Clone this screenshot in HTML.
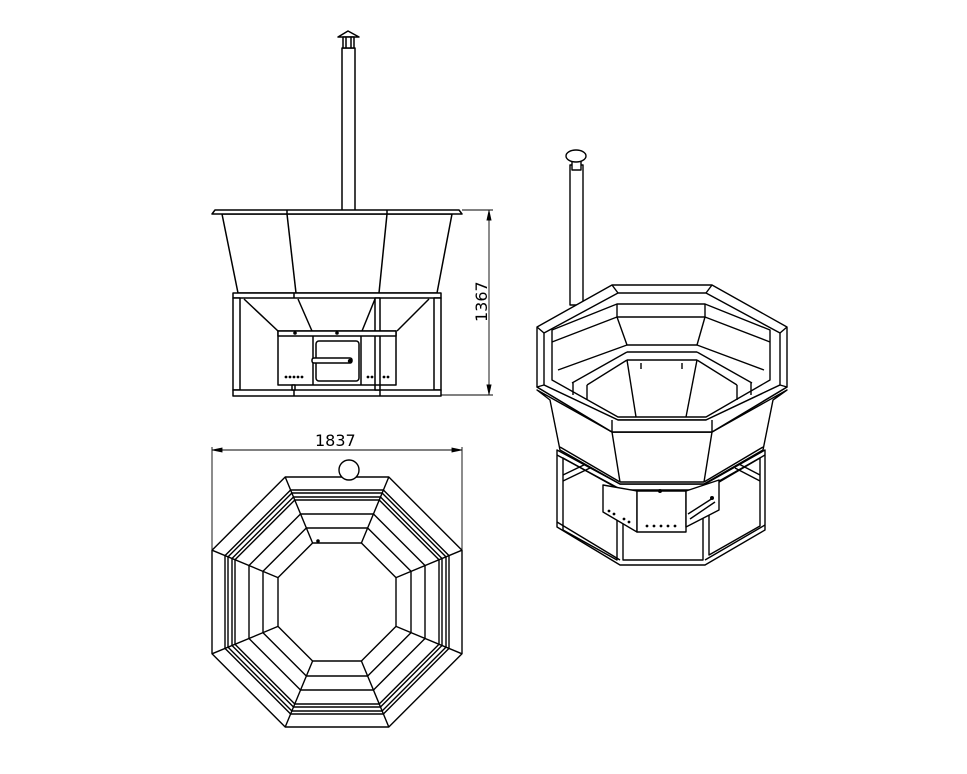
<!DOCTYPE html>
<html><head><meta charset="utf-8"><style>
html,body{margin:0;padding:0;background:#fff;}
svg{display:block;}
text{font-family:"DejaVu Sans","Liberation Sans",sans-serif;font-size:16px;fill:#000;}
</style></head><body>
<svg width="967" height="774" viewBox="0 0 967 774" xmlns="http://www.w3.org/2000/svg">
<g fill="#fff" stroke="#000" stroke-width="1.5" stroke-linejoin="round">
<rect x="342" y="48" width="13" height="163"/>
<polygon points="338,37 348,31 359,37"/>
<rect x="343" y="37" width="11" height="11"/>
<line x1="346" y1="37" x2="346" y2="48"/><line x1="351" y1="37" x2="351" y2="48"/>
<polygon points="222,214 452,214 437,293 238,293"/>
<line x1="287" y1="214" x2="296" y2="293"/>
<line x1="387" y1="214" x2="379" y2="293"/>
<polygon points="215,210 459,210 462,214 212,214"/>
<line x1="287" y1="210" x2="287" y2="214"/><line x1="387" y1="210" x2="387" y2="214"/>
<rect x="233" y="293" width="208" height="5"/>
<rect x="233" y="298" width="7" height="92"/>
<rect x="434" y="298" width="7" height="92"/>
<rect x="233" y="390" width="208" height="6"/>
<rect x="375" y="298" width="5" height="92"/>
<line x1="294" y1="293" x2="294" y2="298"/>
<line x1="294" y1="390" x2="294" y2="396"/>
<line x1="380" y1="390" x2="380" y2="396"/>
<line x1="244" y1="299" x2="278" y2="331"/>
<line x1="298" y1="299" x2="312" y2="331"/>
<line x1="375" y1="299" x2="362" y2="331"/>
<line x1="429" y1="299" x2="397" y2="331"/>
<rect x="278" y="331" width="118" height="54"/>
<rect x="278" y="331" width="118" height="5"/>
<line x1="313" y1="336" x2="313" y2="385"/><line x1="361" y1="336" x2="361" y2="385"/>
<rect x="316" y="341" width="43" height="40" rx="3"/>
<rect x="312" y="358" width="40" height="5" rx="2"/>
<rect x="292" y="385" width="3" height="5"/>
<line x1="375" y1="336" x2="375" y2="385"/><line x1="380" y1="336" x2="380" y2="385"/>
</g>
<g fill="#000">
<circle cx="295" cy="333" r="1.8"/><circle cx="337" cy="333" r="1.8"/><circle cx="350" cy="361" r="2.2"/>
<circle cx="286" cy="377" r="1.4"/><circle cx="290" cy="377" r="1.4"/><circle cx="294" cy="377" r="1.4"/><circle cx="298" cy="377" r="1.4"/><circle cx="302" cy="377" r="1.4"/>
<circle cx="368" cy="377" r="1.4"/><circle cx="372" cy="377" r="1.4"/><circle cx="384" cy="377" r="1.4"/><circle cx="388" cy="377" r="1.4"/>
</g>
<g stroke="#000" stroke-width="0.9" fill="#000">
<line x1="462" y1="210" x2="493" y2="210"/>
<line x1="441" y1="395" x2="493" y2="395"/>
<line x1="489" y1="210" x2="489" y2="395"/>
<polygon points="489,211 487,220 491,220"/>
<polygon points="489,394 487,385 491,385"/>
</g>
<text x="0" y="0" transform="translate(487,322) rotate(-90)">1367</text>

<g stroke="#000" stroke-width="0.9" fill="#000">
<line x1="212" y1="447" x2="212" y2="552"/>
<line x1="462" y1="447" x2="462" y2="552"/>
<line x1="212" y1="450" x2="462" y2="450"/>
<polygon points="213,450 222,448 222,452"/>
<polygon points="461,450 452,448 452,452"/>
</g>
<text x="315" y="446">1837</text>
<g fill="none" stroke="#000" stroke-width="1.4" stroke-linejoin="round">
<polygon fill="#fff" points="285.2,477 388.8,477 462,550.2 462,653.8 388.8,727 285.2,727 212,653.8 212,550.2"/>
<polygon points="290.6,490 383.4,490 449,555.6 449,648.4 383.4,714 290.6,714 225,648.4 225,555.6"/>
<polygon points="291.9,493 382.1,493 446,556.9 446,647.1 382.1,711 291.9,711 228,647.1 228,556.9"/>
<polygon points="293.5,497 380.5,497 442,558.5 442,645.5 380.5,707 293.5,707 232,645.5 232,558.5"/>
<polygon points="294.8,500 379.2,500 439,559.8 439,644.2 379.2,704 294.8,704 235,644.2 235,559.8"/>
<polygon points="300.5,514 373.5,514 425,565.5 425,638.5 373.5,690 300.5,690 249,638.5 249,565.5"/>
<polygon points="306.3,528 367.7,528 411,571.3 411,632.7 367.7,676 306.3,676 263,632.7 263,571.3"/>
<polygon points="312.6,543 361.4,543 396,577.6 396,626.4 361.4,661 312.6,661 278,626.4 278,577.6"/>
<line x1="285.2" y1="477" x2="312.6" y2="543"/>
<line x1="388.8" y1="477" x2="361.4" y2="543"/>
<line x1="462" y1="550.2" x2="396" y2="577.6"/>
<line x1="462" y1="653.8" x2="396" y2="626.4"/>
<line x1="388.8" y1="727" x2="361.4" y2="661"/>
<line x1="285.2" y1="727" x2="312.6" y2="661"/>
<line x1="212" y1="653.8" x2="278" y2="626.4"/>
<line x1="212" y1="550.2" x2="278" y2="577.6"/>
<circle cx="349" cy="470" r="10" fill="#fff"/>
</g>
<circle cx="318" cy="541" r="1.8" fill="#000"/>

<g fill="#fff" stroke="#000" stroke-width="1.4" stroke-linejoin="round">
<rect x="570" y="165" width="13" height="140"/>
<rect x="572" y="160" width="9" height="10"/>
<ellipse cx="576" cy="156" rx="10" ry="6"/>
<polygon points="557,450 620,484 705,484 765,450 765,530 705,565 620,565 557,527"/>
<polygon points="563,458 617,488 617,560 563,530"/>
<polygon points="623,490 703,490 703,560 623,560"/>
<polygon points="709,488 760,458 760,526 709,555"/>
<line x1="557" y1="455" x2="620" y2="489"/>
<line x1="765" y1="455" x2="705" y2="489"/>
<line x1="557" y1="522" x2="620" y2="560"/>
<line x1="765" y1="525" x2="705" y2="560"/>
<line x1="563" y1="475" x2="590" y2="462"/>
<line x1="563" y1="481" x2="590" y2="468"/>
<line x1="760" y1="475" x2="735" y2="462"/>
<line x1="760" y1="481" x2="735" y2="468"/>
<polygon points="603,485 637,491 637,532 603,512"/>
<rect x="637" y="491" width="49" height="41"/>
<polygon points="686,491 719,480 719,510 686,527"/>
<line x1="688" y1="514" x2="713" y2="498"/>
<line x1="690" y1="519" x2="715" y2="502"/>
<polygon points="537,390 612,432 712,432 787,390 773,400 763,450 704,484 620,484 560,450 550,400"/>
<line x1="612" y1="432" x2="620" y2="482"/>
<line x1="712" y1="432" x2="704" y2="482"/>
<line x1="620" y1="482" x2="704" y2="482"/>
<line x1="560" y1="447" x2="620" y2="482"/>
<line x1="763" y1="447" x2="704" y2="482"/>
<polygon points="612,285 712,285 787,327 787,387 712,432 612,432 537,387 537,327"/>
<polygon points="618,293 706,293 780,333 780,385 706,420 618,420 544,385 544,333"/>
<line x1="612" y1="285" x2="618" y2="293"/><line x1="712" y1="285" x2="706" y2="293"/>
<line x1="787" y1="327" x2="780" y2="333"/><line x1="537" y1="327" x2="544" y2="333"/>
<polygon points="544,385 618,420 706,420 780,385 787,387 712,432 612,432 537,387"/>
<line x1="612" y1="420" x2="612" y2="432"/><line x1="712" y1="420" x2="712" y2="432"/>
<polygon points="617,304 705,304 770,330 770,380 706,417 618,417 552,380 552,330"/>
<line x1="617" y1="304" x2="617" y2="317"/><line x1="705" y1="304" x2="705" y2="317"/>
<line x1="617" y1="317" x2="705" y2="317"/>
<line x1="552" y1="342" x2="617" y2="317"/><line x1="770" y1="342" x2="705" y2="317"/>
<line x1="617" y1="317" x2="627" y2="345"/><line x1="705" y1="317" x2="697" y2="345"/>
<line x1="627" y1="345" x2="697" y2="345"/>
<line x1="627" y1="352" x2="697" y2="352"/>
<line x1="558" y1="370" x2="627" y2="345"/><line x1="764" y1="370" x2="697" y2="345"/>
<line x1="627" y1="352" x2="572" y2="383"/><line x1="697" y1="352" x2="752" y2="383"/>
<line x1="627" y1="360" x2="697" y2="360"/>
<line x1="627" y1="360" x2="587" y2="385"/><line x1="697" y1="360" x2="737" y2="385"/>
<line x1="587" y1="385" x2="587" y2="400"/><line x1="737" y1="385" x2="737" y2="400"/>
<line x1="573" y1="383" x2="573" y2="395"/><line x1="751" y1="383" x2="751" y2="395"/>
<line x1="627" y1="360" x2="636" y2="417"/><line x1="697" y1="360" x2="686" y2="417"/>
<line x1="641" y1="363" x2="641" y2="369"/><line x1="682" y1="363" x2="682" y2="369"/>
</g>
<g fill="#000">
<circle cx="660" cy="491" r="2"/>
<circle cx="647" cy="526" r="1.4"/><circle cx="654" cy="526" r="1.4"/><circle cx="661" cy="526" r="1.4"/><circle cx="668" cy="526" r="1.4"/><circle cx="675" cy="526" r="1.4"/>
<circle cx="609" cy="511" r="1.4"/><circle cx="614" cy="514" r="1.4"/><circle cx="624" cy="519" r="1.4"/><circle cx="629" cy="522" r="1.4"/>
<circle cx="712" cy="498" r="2"/>
</g>
</svg>
</body></html>
